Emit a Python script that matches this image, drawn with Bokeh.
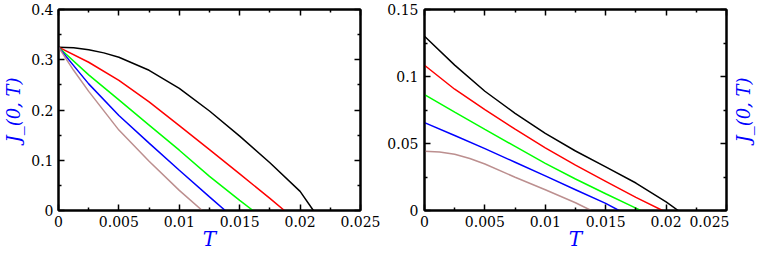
import math
from bokeh.plotting import figure
from bokeh.models import FixedTicker, LinearAxis, CustomJSTickFormatter, Range1d
from bokeh.layouts import row
from bokeh.embed import file_html
from bokeh.resources import INLINE

# ---------------- data ----------------
# left panel
t_black_l = [0, 0.00125, 0.0025, 0.00375, 0.005, 0.0075, 0.01, 0.0125, 0.015, 0.0175, 0.02, 0.0211]
j_black_l = [0.325, 0.3237, 0.320, 0.3137, 0.305, 0.279, 0.243, 0.198, 0.148, 0.095, 0.038, 0.0]
t_red_l = [0, 0.0025, 0.005, 0.0075, 0.01, 0.0125, 0.015, 0.0175, 0.0187]
j_red_l = [0.325, 0.295, 0.259, 0.216, 0.169, 0.121, 0.073, 0.024, 0.0]
t_green_l = [0, 0.0025, 0.005, 0.0075, 0.01, 0.0125, 0.015, 0.0161]
j_green_l = [0.325, 0.270, 0.220, 0.170, 0.120, 0.068, 0.020, 0.0]
t_blue_l = [0, 0.0025, 0.005, 0.0075, 0.01, 0.0125, 0.0138]
j_blue_l = [0.325, 0.252, 0.189, 0.134, 0.080, 0.027, 0.0]
t_brown_l = [0, 0.00125, 0.0025, 0.005, 0.0075, 0.01, 0.0119]
j_brown_l = [0.325, 0.279, 0.237, 0.160, 0.098, 0.040, 0.0]

# right panel
t_black_r = [0, 0.0025, 0.005, 0.0075, 0.01, 0.0125, 0.015, 0.0175, 0.02, 0.021]
j_black_r = [0.130, 0.1085, 0.089, 0.0725, 0.0575, 0.0444, 0.0325, 0.0205, 0.0065, 0.0]
t_red_r = [0, 0.0025, 0.005, 0.0075, 0.01, 0.0125, 0.015, 0.0175, 0.0197]
j_red_r = [0.1084, 0.0905, 0.0752, 0.0607, 0.0468, 0.0338, 0.0218, 0.0098, 0.0]
t_green_r = [0, 0.0025, 0.005, 0.0075, 0.01, 0.0125, 0.015, 0.0175, 0.0179]
j_green_r = [0.0864, 0.0734, 0.0605, 0.0478, 0.0352, 0.0235, 0.0125, 0.0018, 0.0]
t_blue_r = [0, 0.0025, 0.005, 0.0075, 0.01, 0.0125, 0.015, 0.0161]
j_blue_r = [0.0656, 0.0560, 0.0462, 0.0360, 0.0258, 0.0155, 0.0053, 0.0]
t_brown_r = [0, 0.00125, 0.0025, 0.00375, 0.005, 0.0075, 0.01, 0.0125, 0.0138]
j_brown_r = [0.0443, 0.0437, 0.0420, 0.0388, 0.0347, 0.0248, 0.0155, 0.0058, 0.0]

# ticks
x_major = [0, 0.005, 0.01, 0.015, 0.02, 0.025]
x_minor = [0.0025, 0.0075, 0.0125, 0.0175, 0.0225]
yl_major = [0, 0.1, 0.2, 0.3, 0.4]
yl_minor = [0.05, 0.15, 0.25, 0.35]
yr_major = [0, 0.05, 0.1, 0.15]
yr_minor = [0.025, 0.075, 0.125]

x_label = "T"
y_label = "J_(0, T)"
colors = ["#000000", "#ff0000", "#00ff00", "#0000ff", "#bc8f8f"]

FONT = "DejaVu Serif"
TICK_FS = "14px"
LABEL_FS = "20px"
YLABEL_FS = "18px"
BLUE = "#0000ff"

TOP = 9
FRAME_H = 201
FRAME_W = 302
BOTTOM = 41

fmt = CustomJSTickFormatter(code="return String(Math.round(tick*1e6)/1e6);")
blank = CustomJSTickFormatter(code="return '';")


def style_axis(ax, labels):
    ax.axis_line_width = 2
    ax.axis_line_color = "black"
    ax.major_tick_in = 6
    ax.major_tick_out = 0
    ax.minor_tick_in = 3
    ax.minor_tick_out = 0
    ax.major_tick_line_width = 1.5
    ax.minor_tick_line_width = 1.5
    ax.major_tick_line_color = "black"
    ax.minor_tick_line_color = "black"
    if labels:
        ax.formatter = fmt
        ax.major_label_text_font = FONT
        ax.major_label_text_font_size = TICK_FS
        ax.major_label_text_color = "black"
    else:
        ax.formatter = blank
        ax.major_label_standoff = 0
        ax.major_label_text_font_size = "0px"


def make_fig(ymax, ymaj, ymin, bl, br):
    p = figure(output_backend="svg", toolbar_location=None,
               frame_width=FRAME_W, frame_height=FRAME_H,
               x_range=Range1d(0, 0.025), y_range=Range1d(0, ymax),
               x_axis_type=None, y_axis_type=None,
               min_border_left=bl, min_border_right=br,
               min_border_top=TOP, min_border_bottom=BOTTOM)
    p.grid.visible = False
    p.outline_line_color = "black"
    p.outline_line_width = 2
    p.background_fill_color = "white"
    p.border_fill_color = "white"
    xt = FixedTicker(ticks=x_major, minor_ticks=x_minor)
    yt = FixedTicker(ticks=ymaj, minor_ticks=ymin)
    xb = LinearAxis(ticker=xt)
    style_axis(xb, True)
    xb.major_label_standoff = 5
    xb.axis_label = x_label
    xb.axis_label_text_font = FONT
    xb.axis_label_text_font_style = "italic"
    xb.axis_label_text_font_size = LABEL_FS
    xb.axis_label_text_color = BLUE
    xb.axis_label_standoff = -3
    p.add_layout(xb, "below")
    xa = LinearAxis(ticker=xt)
    style_axis(xa, False)
    p.add_layout(xa, "above")
    yl = LinearAxis(ticker=yt)
    style_axis(yl, True)
    yl.major_label_standoff = 6
    p.add_layout(yl, "left")
    yr = LinearAxis(ticker=yt)
    style_axis(yr, False)
    p.add_layout(yr, "right")
    return p, yl


p1, yl1 = make_fig(0.4, yl_major, yl_minor, 51, 20)
yl1.axis_label = y_label
yl1.axis_label_text_font = FONT
yl1.axis_label_text_font_style = "italic"
yl1.axis_label_text_font_size = YLABEL_FS
yl1.axis_label_text_color = BLUE
yl1.axis_label_standoff = 4
yl1.major_label_standoff = 5

left_series = [(t_black_l, j_black_l), (t_red_l, j_red_l), (t_green_l, j_green_l),
               (t_blue_l, j_blue_l), (t_brown_l, j_brown_l)]
for (t, j), c in zip(left_series, colors):
    p1.line(t, j, line_color=c, line_width=1.5)

p2, yl2 = make_fig(0.15, yr_major, yr_minor, 44, 3)
right_series = [(t_black_r, j_black_r), (t_red_r, j_red_r), (t_green_r, j_green_r),
                (t_blue_r, j_blue_r), (t_brown_r, j_brown_r)]
for (t, j), c in zip(right_series, colors):
    p2.line(t, j, line_color=c, line_width=1.5)

# narrow strip whose own left axis carries the right-hand title (reads bottom-to-top)
p3 = figure(output_backend="svg", toolbar_location=None,
            frame_width=4, frame_height=FRAME_H,
            x_range=Range1d(0, 1), y_range=Range1d(0, 0.15),
            x_axis_type=None, y_axis_type=None,
            min_border_left=20, min_border_right=0,
            min_border_top=TOP, min_border_bottom=BOTTOM)
p3.grid.visible = False
p3.outline_line_color = None
p3.background_fill_color = "white"
p3.border_fill_color = "white"
ya3 = LinearAxis(ticker=FixedTicker(ticks=[]))
ya3.formatter = blank
ya3.axis_line_color = None
ya3.major_tick_line_color = None
ya3.minor_tick_line_color = None
ya3.major_tick_in = 0
ya3.major_tick_out = 0
ya3.minor_tick_in = 0
ya3.minor_tick_out = 0
ya3.major_label_standoff = 0
ya3.major_label_text_font_size = "0px"
ya3.axis_label = y_label
ya3.axis_label_text_font = FONT
ya3.axis_label_text_font_style = "italic"
ya3.axis_label_text_font_size = YLABEL_FS
ya3.axis_label_text_color = BLUE
ya3.axis_label_standoff = 1
p3.add_layout(ya3, "left")

layout = row(p1, p2, p3)
open("out.html", "w").write(file_html(layout, INLINE))
